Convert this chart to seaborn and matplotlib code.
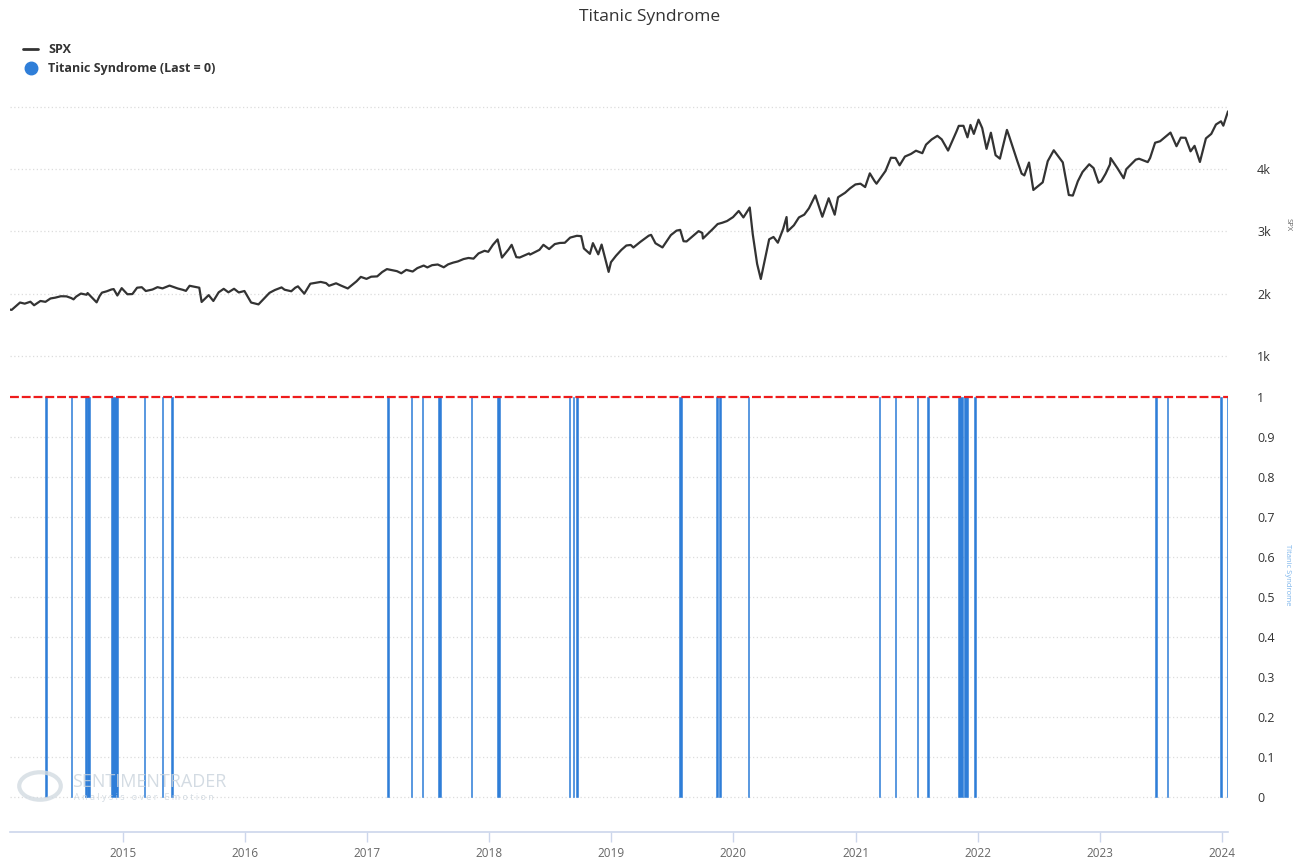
"""
Titanic Syndrome signal vs SPX, recreated with seaborn/matplotlib.
Top pane: SPX close. Bottom pane: signal days (1 = triggered).
"""
import pandas as pd
import matplotlib
matplotlib.use("Agg")
import matplotlib.pyplot as plt
import matplotlib.dates as mdates
from matplotlib.lines import Line2D
from matplotlib.ticker import FixedLocator, FixedFormatter
import seaborn as sns

# ---------------------------------------------------------------------------
# Data
# ---------------------------------------------------------------------------
spx_dates = [
    # 2014
    "2014-01-29", "2014-02-03", "2014-02-28", "2014-03-14", "2014-03-31", "2014-04-11",
    "2014-04-30", "2014-05-15", "2014-05-30", "2014-06-13", "2014-06-30", "2014-07-17",
    "2014-07-31", "2014-08-07", "2014-08-15", "2014-08-29", "2014-09-15", "2014-09-18",
    "2014-10-15", "2014-10-24", "2014-10-31", "2014-11-14", "2014-11-28", "2014-12-05",
    "2014-12-16", "2014-12-29",
    # 2015
    "2015-01-15", "2015-01-30", "2015-02-13", "2015-02-27", "2015-03-11", "2015-03-31",
    "2015-04-15", "2015-04-30", "2015-05-21", "2015-06-15", "2015-06-30", "2015-07-09",
    "2015-07-20", "2015-08-18", "2015-08-25", "2015-09-15", "2015-09-29", "2015-10-15",
    "2015-10-30", "2015-11-13", "2015-11-30", "2015-12-14", "2015-12-31",
    # 2016
    "2016-01-20", "2016-02-11", "2016-03-15", "2016-03-31", "2016-04-20", "2016-04-29",
    "2016-05-19", "2016-05-31", "2016-06-08", "2016-06-27", "2016-07-15", "2016-07-29",
    "2016-08-15", "2016-08-31", "2016-09-09", "2016-09-30", "2016-10-14", "2016-11-04",
    "2016-11-30", "2016-12-13", "2016-12-30",
    # 2017
    "2017-01-13", "2017-01-31", "2017-02-15", "2017-03-01", "2017-03-31", "2017-04-13",
    "2017-04-28", "2017-05-17", "2017-05-31", "2017-06-19", "2017-06-30", "2017-07-14",
    "2017-07-31", "2017-08-18", "2017-08-31", "2017-09-15", "2017-09-29", "2017-10-16",
    "2017-10-31", "2017-11-15", "2017-11-30", "2017-12-18", "2017-12-29",
    # 2018
    "2018-01-12", "2018-01-26", "2018-02-08", "2018-02-28", "2018-03-09", "2018-03-23",
    "2018-04-02", "2018-04-30", "2018-05-03", "2018-05-31", "2018-06-12", "2018-06-29",
    "2018-07-16", "2018-07-31", "2018-08-15", "2018-08-31", "2018-09-20", "2018-10-03",
    "2018-10-11", "2018-10-29", "2018-11-07", "2018-11-23", "2018-12-03", "2018-12-24",
    "2018-12-31",
    # 2019
    "2019-01-15", "2019-01-31", "2019-02-15", "2019-02-28", "2019-03-08", "2019-03-29",
    "2019-04-23", "2019-04-30", "2019-05-13", "2019-06-03", "2019-06-28", "2019-07-15",
    "2019-07-26", "2019-08-05", "2019-08-14", "2019-09-19", "2019-09-30", "2019-10-02",
    "2019-10-31", "2019-11-15", "2019-11-29", "2019-12-13", "2019-12-31",
    # 2020
    "2020-01-17", "2020-01-31", "2020-02-19", "2020-02-28", "2020-03-12", "2020-03-23",
    "2020-04-17", "2020-04-30", "2020-05-13", "2020-05-29", "2020-06-08", "2020-06-11",
    "2020-06-30", "2020-07-15", "2020-07-31", "2020-08-14", "2020-09-02", "2020-09-23",
    "2020-10-12", "2020-10-30", "2020-11-09", "2020-11-30", "2020-12-15", "2020-12-31",
    # 2021
    "2021-01-15", "2021-01-29", "2021-02-12", "2021-02-26", "2021-03-04", "2021-03-31",
    "2021-04-16", "2021-04-30", "2021-05-12", "2021-05-28", "2021-06-15", "2021-06-30",
    "2021-07-19", "2021-07-30", "2021-08-16", "2021-09-02", "2021-09-15", "2021-10-04",
    "2021-10-29", "2021-11-05", "2021-11-19", "2021-12-01", "2021-12-10", "2021-12-20",
    # 2022
    "2022-01-03", "2022-01-14", "2022-01-27", "2022-02-09", "2022-02-23", "2022-03-08",
    "2022-03-29", "2022-04-05", "2022-04-29", "2022-05-12", "2022-05-20", "2022-06-03",
    "2022-06-16", "2022-07-14", "2022-07-29", "2022-08-16", "2022-09-12", "2022-09-30",
    "2022-10-12", "2022-10-27", "2022-11-10", "2022-11-30", "2022-12-13", "2022-12-28",
    # 2023-24
    "2023-01-05", "2023-01-18", "2023-01-31", "2023-02-02", "2023-02-23", "2023-03-13",
    "2023-03-21", "2023-04-18", "2023-04-28", "2023-05-24", "2023-05-31", "2023-06-15",
    "2023-06-30", "2023-07-26", "2023-07-31", "2023-08-18", "2023-08-31", "2023-09-14",
    "2023-09-29", "2023-10-11", "2023-10-27", "2023-11-14", "2023-11-30", "2023-12-14",
    "2023-12-29", "2024-01-05", "2024-01-19",
]
spx_close = [
    # 2014
    1745, 1741, 1859, 1841, 1872, 1815,
    1884, 1870, 1924, 1937, 1960, 1958,
    1931, 1910, 1955, 2003, 1984, 2011,
    1862, 1964, 2018, 2039, 2068, 2075,
    1972, 2090,
    # 2015
    1992, 1995, 2097, 2105, 2044, 2068,
    2106, 2086, 2131, 2084, 2063, 2046,
    2128, 2097, 1868, 1978, 1884, 2023,
    2079, 2023, 2080, 2021, 2044,
    # 2016
    1859, 1829, 2015, 2060, 2102, 2065,
    2040, 2097, 2119, 2001, 2161, 2174,
    2190, 2171, 2128, 2168, 2133, 2085,
    2199, 2271, 2239,
    # 2017
    2274, 2279, 2349, 2396, 2363, 2329,
    2384, 2357, 2412, 2453, 2423, 2459,
    2470, 2425, 2472, 2500, 2519, 2557,
    2575, 2564, 2648, 2690, 2674,
    # 2018
    2786, 2873, 2581, 2714, 2786, 2588,
    2582, 2648, 2629, 2705, 2786, 2718,
    2798, 2816, 2819, 2902, 2931, 2925,
    2728, 2641, 2813, 2633, 2790, 2351,
    2507,
    # 2019
    2610, 2704, 2775, 2784, 2743, 2834,
    2933, 2946, 2811, 2744, 2942, 3014,
    3026, 2844, 2840, 3006, 2977, 2887,
    3038, 3120, 3141, 3168, 3231,
    # 2020
    3330, 3226, 3386, 2954, 2480, 2237,
    2875, 2912, 2820, 3044, 3232, 3002,
    3100, 3226, 3271, 3373, 3580, 3237,
    3534, 3270, 3550, 3622, 3694, 3756,
    # 2021
    3768, 3714, 3934, 3811, 3768, 3973,
    4185, 4181, 4063, 4204, 4246, 4298,
    4258, 4395, 4479, 4537, 4480, 4300,
    4605, 4697, 4698, 4513, 4712, 4568,
    # 2022
    4796, 4662, 4327, 4587, 4226, 4170,
    4632, 4525, 4132, 3930, 3901, 4108,
    3667, 3790, 4130, 4305, 4110, 3586,
    3577, 3807, 3956, 4080, 4019, 3783,
    # 2023-24
    3808, 3928, 4077, 4179, 4012, 3855,
    4002, 4154, 4169, 4115, 4180, 4426,
    4450, 4566, 4589, 4370, 4508, 4505,
    4288, 4376, 4117, 4496, 4568, 4719,
    4770, 4700, 4930,
]

# signal episodes: first and last day of each run of "1" readings
signal_start = [
    "2014-05-15", "2014-07-30", "2014-09-11", "2014-09-16", "2014-11-26",
    "2015-03-05", "2015-04-28", "2015-05-26", "2017-03-02", "2017-05-12",
    "2017-06-14", "2017-07-31", "2017-11-06", "2018-01-24", "2018-08-27",
    "2018-09-07", "2018-09-18", "2019-07-22", "2019-11-11", "2019-11-20",
    "2020-02-14", "2021-03-10", "2021-04-27", "2021-07-02", "2021-08-03",
    "2021-11-02", "2021-11-22", "2021-12-21", "2023-06-16", "2023-07-21",
    "2023-12-27", "2024-01-16",
]
signal_end = [
    "2014-05-15", "2014-07-30", "2014-09-11", "2014-09-23", "2014-12-16",
    "2015-03-05", "2015-04-28", "2015-05-26", "2017-03-02", "2017-05-12",
    "2017-06-14", "2017-08-09", "2017-11-06", "2018-02-02", "2018-08-27",
    "2018-09-07", "2018-09-18", "2019-07-29", "2019-11-11", "2019-11-20",
    "2020-02-14", "2021-03-10", "2021-04-27", "2021-07-02", "2021-08-03",
    "2021-11-16", "2021-12-03", "2021-12-21", "2023-06-16", "2023-07-21",
    "2023-12-27", "2024-01-16",
]

spx_ticks = [1000, 2000, 3000, 4000, 5000]
spx_tick_labels = ["1k", "2k", "3k", "4k", ""]
sig_ticks = [0, 0.1, 0.2, 0.3, 0.4, 0.5, 0.6, 0.7, 0.8, 0.9, 1]
sig_tick_labels = ["0", "0.1", "0.2", "0.3", "0.4", "0.5", "0.6", "0.7", "0.8", "0.9", "1"]

# ---------------------------------------------------------------------------
sns.set_theme(style="white")
plt.rcParams["font.family"] = ["Open Sans", "DejaVu Sans"]

W, H = 1299, 859
BLUE = "#2f7ed8"
GRID = "#dcdcdc"
X_LEFT, X_RIGHT = pd.Timestamp("2014-01-29"), pd.Timestamp("2024-01-19")


def px_axes(fig, left, top, right, bottom):
    return fig.add_axes([left / W, 1 - bottom / H, (right - left) / W, (bottom - top) / H])


fig = plt.figure(figsize=(W / 100, H / 100), dpi=100)

# ---- top pane: SPX ----
ax_top = px_axes(fig, 10, 104, 1228, 378)
spx = pd.DataFrame({"date": pd.to_datetime(spx_dates), "close": spx_close})
sns.lineplot(data=spx, x="date", y="close", ax=ax_top, color="#333333", linewidth=1.6)
ax_top.set_xlim(X_LEFT, X_RIGHT)
ax_top.set_ylim(1000 - (378 - 356) / 62.25 * 1000, 1000 + (356 - 104) / 62.25 * 1000)

# ---- bottom pane: signal ----
ax_bot = px_axes(fig, 10, 392, 1228, 832)
starts = mdates.date2num(pd.to_datetime(signal_start))
ends = mdates.date2num(pd.to_datetime(signal_end))
widths = [max(e - s + 1, 4) for s, e in zip(starts, ends)]
ax_bot.bar(starts, [1] * len(starts), width=widths, align="edge",
           color=BLUE, edgecolor=BLUE, linewidth=0.4, zorder=3)
ax_bot.axhline(1, color="#ee1c1c", linestyle=(0, (4, 1.3)), linewidth=1.6, zorder=4)
ax_bot.set_xlim(mdates.date2num(X_LEFT), mdates.date2num(X_RIGHT))
ax_bot.set_ylim(-(832 - 797) / 400, 1 + (397 - 392) / 400)

for ax, ticks, labels in [(ax_top, spx_ticks, spx_tick_labels), (ax_bot, sig_ticks, sig_tick_labels)]:
    ax.set_xlabel(""); ax.set_ylabel("")
    ax.set_facecolor("none")
    ax.yaxis.tick_right()
    ax.yaxis.set_major_locator(FixedLocator(ticks))
    ax.yaxis.set_major_formatter(FixedFormatter(labels))
    ax.tick_params(axis="y", length=0, pad=21, labelsize=9, labelcolor="#333333")
    for sp in ax.spines.values():
        sp.set_visible(False)

# dotted horizontal grid
ax_top.grid(axis="y", linestyle=(0, (1, 2)), color=GRID, linewidth=0.9)
ax_top.tick_params(axis="x", bottom=False, labelbottom=False)
for v in sig_ticks[:-1]:
    ax_bot.axhline(v, linestyle=(0, (1, 2)), color=GRID, linewidth=0.9, zorder=1)

# x axis along the bottom
ax_bot.spines["bottom"].set_visible(True)
ax_bot.spines["bottom"].set_color("#ccd6eb")
ax_bot.spines["bottom"].set_linewidth(1.2)
ax_bot.xaxis.set_major_locator(mdates.YearLocator())
ax_bot.xaxis.set_major_formatter(mdates.DateFormatter("%Y"))
ax_bot.tick_params(axis="x", bottom=True, length=7, width=1, color="#ccd6eb",
                   labelsize=8.5, labelcolor="#666666", pad=4)

# ---- title, legend, axis titles, watermark ----
fig.text(0.5, 1 - 17 / H, "Titanic Syndrome", ha="center", va="center",
         fontsize=12.5, color="#333333")

handles = [
    Line2D([], [], color="#333333", linewidth=2),
    Line2D([], [], color=BLUE, marker="o", linestyle="none", markersize=9),
]
leg = fig.legend(handles, ["SPX", "Titanic Syndrome (Last = 0)"], loc="upper left",
                 bbox_to_anchor=(12 / W, 1 - 32 / H), frameon=False, handlelength=1.2,
                 handletextpad=0.8, labelspacing=0.45, prop={"weight": "bold", "size": 9})
for t in leg.get_texts():
    t.set_color("#333333")

fig.text(1288 / W, 1 - 225 / H, "SPX", rotation=270, ha="center", va="center",
         fontsize=5.5, color="#666666")
fig.text(1288 / W, 1 - 575 / H, "Titanic Syndrome", rotation=270, ha="center",
         va="center", fontsize=5.5, color="#7cb5ec")

fig.text(72 / W, 1 - 782 / H, "SENTIMENTRADER", ha="left", va="center",
         fontsize=13, color="#c9d3dc", alpha=0.8, zorder=0)
fig.text(74 / W, 1 - 798 / H, "A n a l y s i s   o v e r   E m o t i o n", ha="left",
         va="center", fontsize=6.5, color="#c9d3dc", alpha=0.8, zorder=0)
fig.patches.append(plt.Circle((40 / W, 1 - 786 / H), 0.016, transform=fig.transFigure,
                              fill=False, edgecolor="#d3dbe2", linewidth=3, alpha=0.8,
                              figure=fig))

fig.savefig("out.png", dpi=100)
